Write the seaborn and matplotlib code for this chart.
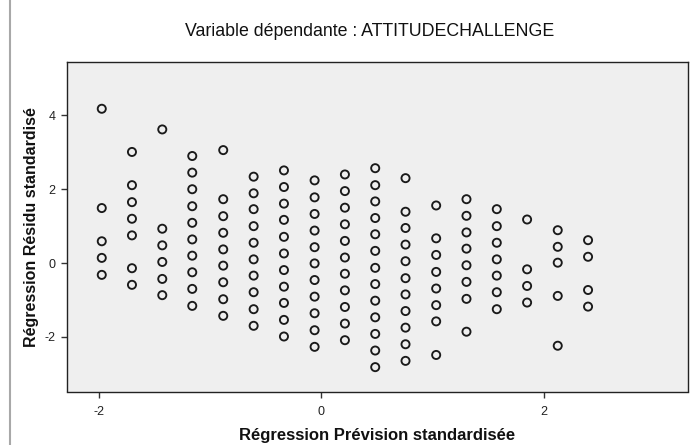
import matplotlib
matplotlib.use("Agg")
import matplotlib.pyplot as plt
import seaborn as sns
import pandas as pd
from matplotlib.lines import Line2D

# Standardized predicted value of each column of points
pred_levels = [-1.971, -1.700, -1.428, -1.159, -0.881, -0.608, -0.336, -0.061,
               0.211, 0.483, 0.755, 1.030, 1.302, 1.574, 1.846, 2.121, 2.393]

# Standardized residuals in each column (left to right)
res_c01 = [4.18, 1.49, 0.59, 0.14, -0.32]
res_c02 = [3.01, 2.11, 1.65, 1.20, 0.75, -0.14, -0.59]
res_c03 = [3.62, 0.93, 0.48, 0.03, -0.43, -0.87]
res_c04 = [2.90, 2.45, 2.00, 1.54, 1.09, 0.64, 0.20, -0.25, -0.70, -1.16]
res_c05 = [3.06, 1.73, 1.27, 0.82, 0.37, -0.07, -0.52, -0.98, -1.43]
res_c06 = [2.34, 1.89, 1.46, 1.00, 0.55, 0.10, -0.34, -0.79, -1.25, -1.70]
res_c07 = [2.51, 2.06, 1.61, 1.17, 0.71, 0.26, -0.19, -0.64, -1.08, -1.54, -1.99]
res_c08 = [2.24, 1.78, 1.33, 0.88, 0.43, -0.01, -0.46, -0.91, -1.36, -1.82, -2.27]
res_c09 = [2.40, 1.95, 1.50, 1.05, 0.60, 0.15, -0.29, -0.74, -1.19, -1.64, -2.09]
res_c10 = [2.57, 2.11, 1.67, 1.22, 0.78, 0.33, -0.13, -0.57, -1.02, -1.47, -1.92, -2.37, -2.82]
res_c11 = [2.30, 1.39, 0.95, 0.50, 0.05, -0.41, -0.85, -1.30, -1.75, -2.20, -2.65]
res_c12 = [1.56, 0.67, 0.22, -0.24, -0.69, -1.14, -1.58, -2.49]
res_c13 = [1.73, 1.28, 0.83, 0.39, -0.06, -0.51, -0.97, -1.86]
res_c14 = [1.46, 1.00, 0.55, 0.10, -0.34, -0.79, -1.25]
res_c15 = [1.18, -0.17, -0.62, -1.07]
res_c16 = [0.89, 0.44, 0.01, -0.89, -2.24]
res_c17 = [0.62, 0.17, -0.73, -1.18]

residual_columns = [res_c01, res_c02, res_c03, res_c04, res_c05, res_c06, res_c07,
                    res_c08, res_c09, res_c10, res_c11, res_c12, res_c13, res_c14,
                    res_c15, res_c16, res_c17]

x_ticks = [-2, 0, 2]
y_ticks = [-2, 0, 2, 4]

title_text = "Variable dépendante : ATTITUDECHALLENGE"
x_label = "Régression Prévision standardisée"
y_label = "Régression Résidu standardisé"

rows = []
for xv, col in zip(pred_levels, residual_columns):
    for yv in col:
        rows.append({"pred": xv, "resid": yv})
df = pd.DataFrame(rows)

sns.set_theme(style="white")
plt.rcParams["font.family"] = ["Liberation Sans", "DejaVu Sans"]

fig = plt.figure(figsize=(6.91, 4.45), dpi=100)
ax = fig.add_axes([67 / 691, 1 - 391.5 / 445, (688 - 67) / 691, (391.5 - 62) / 445])
ax.set_facecolor("#efefef")

sns.scatterplot(data=df, x="pred", y="resid", ax=ax, marker="o", s=34,
                facecolor="none", edgecolor="#1a1a1a", linewidth=1.35)

ax.set_xlim(-2.283, 3.29)
ax.set_ylim(-3.48, 5.447)
ax.set_xticks(x_ticks)
ax.set_yticks(y_ticks)
ax.set_xticklabels([str(t) for t in x_ticks])
ax.set_yticklabels([str(t) for t in y_ticks])
ax.tick_params(axis="both", which="both", direction="out", length=4.5, width=1,
               color="#333333", labelsize=9, labelcolor="#222222",
               bottom=True, left=True, top=False, right=False)
ax.tick_params(axis="y", pad=4)
ax.tick_params(axis="x", pad=6)

for sp in ax.spines.values():
    sp.set_color("#222222")
    sp.set_linewidth(1.0)

ax.set_xlabel(x_label, fontsize=12, fontweight="bold", color="#111111")
ax.set_ylabel(y_label, fontsize=11.5, fontweight="bold", color="#111111")
ax.xaxis.set_label_coords(0.5, -0.112)
ax.yaxis.set_label_coords(-0.045, 0.5)

fig.text(370 / 691, 1 - 31 / 445, title_text, ha="center", va="center",
         fontsize=12.8, color="#111111")

fig.add_artist(Line2D([10 / 691, 10 / 691], [0, 1], transform=fig.transFigure,
                      color="#a8a8a8", linewidth=1.5))

fig.savefig("out.png", dpi=100, facecolor="white")
